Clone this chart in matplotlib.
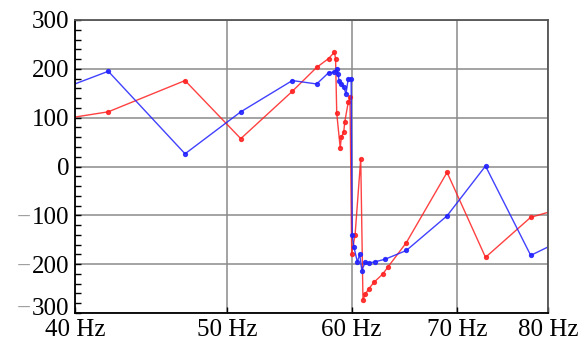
import matplotlib
matplotlib.use('Agg')
import matplotlib.pyplot as plt
import matplotlib.transforms as mtransforms
from matplotlib.ticker import FixedLocator, NullLocator, FuncFormatter

#---- Data -------------------------------------------------------------------#

red_f = [38, 42, 47, 51, 55, 57, 58, 58.5, 58.6, 58.7, 59.0, 59.1, 59.3, 59.4,
         59.7, 59.85, 60.0, 60.3, 60.8, 61.0, 61.2, 61.5, 62.0, 62.8, 63.3,
         65, 69, 73, 78, 82]
red_v = [90, 112, 176, 57, 154, 203, 221, 234, 221, 109, 38, 60, 70, 92,
         132, 142, -179, -140, 16, -273, -262, -251, -237, -220, -205,
         -156, -12, -186, -104, -84]

blue_f = [38, 42, 47, 51, 55, 57, 58, 58.5, 58.7, 58.8, 58.9, 59.1, 59.3,
          59.5, 59.7, 59.95, 60.05, 60.2, 60.5, 60.7, 60.9, 61.2, 61.5, 62.1,
          63, 65, 69, 73, 78, 82]
blue_v = [142, 195, 26, 112, 176, 169, 192, 193, 200, 190, 176, 169, 163,
          149, 180, 180, -141, -165, -196, -179, -213, -196, -198, -195,
          -190, -172, -101, 1, -182, -148]

x_ticks = [40, 50, 60, 70, 80]
y_ticks = [-300, -200, -100, 0, 100, 200, 300]

#---- Plotting ---------------------------------------------------------------#

plt.rcParams['font.family'] = ['Liberation Serif', 'DejaVu Serif']

fig = plt.figure(figsize=(5.82, 3.41), dpi=100)
ax = fig.add_axes([75/582, 28/341, 473/582, 293/341])

ax.plot(red_f, red_v, color='#ff2020', lw=1.0, marker='o', ms=2.8, alpha=0.85)
ax.plot(blue_f, blue_v, color='#2020ff', lw=1.0, marker='o', ms=2.8, alpha=0.85)

ax.set_xscale('log')
ax.set_xlim(40, 80)
ax.set_ylim(-300, 300)

ax.xaxis.set_major_locator(FixedLocator(x_ticks))
ax.xaxis.set_minor_locator(NullLocator())
ax.xaxis.set_major_formatter(FuncFormatter(lambda v, p: '%d Hz' % round(v)))
ax.yaxis.set_major_locator(FixedLocator(y_ticks))
ax.yaxis.set_minor_locator(FixedLocator(range(-300, 301, 20)))
ax.yaxis.set_major_formatter(FuncFormatter(lambda v, p: '%d' % abs(v)))

ax.grid(True, color='#8a8a8a', lw=1.1)
ax.set_axisbelow(True)

ax.tick_params(axis='y', which='both', direction='in', length=4, width=1,
               labelsize=18, pad=4)
ax.tick_params(axis='x', which='major', direction='in', length=4, width=1,
               labelsize=18, pad=4)

for s in ['left', 'bottom']:
    ax.spines[s].set_color('black')
    ax.spines[s].set_linewidth(1.3)
for s in ['top', 'right']:
    ax.spines[s].set_color('#555555')
    ax.spines[s].set_linewidth(1.3)

#Lift the bottom y label a little so it sits above "40 Hz"
fig.canvas.draw()
lift = mtransforms.ScaledTranslation(0, 5/72, fig.dpi_scale_trans)
ylabels = ax.get_yticklabels()
ylabels[0].set_transform(ylabels[0].get_transform() + lift)

#Gray minus signs in front of negative labels
fig.canvas.draw()
for lbl, v in zip(ax.get_yticklabels(), y_ticks):
    if v < 0:
        bb = lbl.get_window_extent()
        ax.annotate('\u2212', xy=(bb.x0, (bb.y0 + bb.y1) / 2),
                    xycoords='figure pixels', xytext=(-1, 0),
                    textcoords='offset points', ha='right', va='center',
                    color='#a0a0a0', fontsize=18, annotation_clip=False)

plt.savefig('out.png', dpi=100)
